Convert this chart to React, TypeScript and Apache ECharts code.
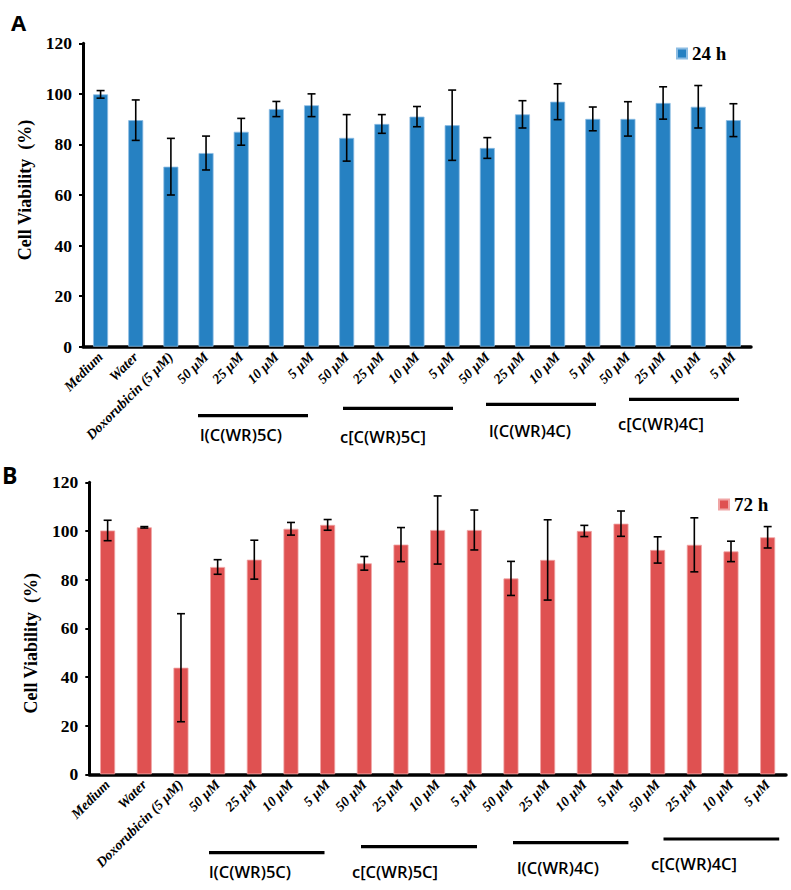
import React, { useEffect, useRef } from "react";
import * as echarts from "echarts";

const categories = [
  "Medium", "Water", "Doxorubicin (5 μM)",
  "50 μM", "25 μM", "10 μM", "5 μM",
  "50 μM", "25 μM", "10 μM", "5 μM",
  "50 μM", "25 μM", "10 μM", "5 μM",
  "50 μM", "25 μM", "10 μM", "5 μM",
];
const values24 = [99.8, 89.6, 71.2, 76.6, 85.0, 94.0, 95.5, 82.6, 88.1, 91.0, 87.6, 78.6, 91.9, 96.9, 90.1, 90.1, 96.4, 94.9, 89.6];
const err24 = [1.5, 8.0, 11.2, 6.7, 5.3, 3.0, 4.5, 9.2, 3.7, 4.0, 13.9, 4.1, 5.4, 7.1, 4.7, 6.8, 6.4, 8.4, 6.5];
const values72 = [100.2, 101.5, 43.8, 85.2, 88.2, 100.9, 102.5, 86.7, 94.4, 100.4, 100.4, 80.5, 88.1, 100.0, 103.0, 92.2, 94.3, 91.6, 97.4];
const err72 = [4.2, 0.3, 22.2, 3.0, 8.0, 2.6, 2.2, 2.8, 7.0, 14.0, 8.2, 7.0, 16.5, 2.3, 5.2, 5.4, 11.1, 4.2, 4.4];
const yTicks = [0, 20, 40, 60, 80, 100, 120];
const groupNames = ["l(C(WR)5C)", "c[C(WR)5C]", "l(C(WR)4C)", "c[C(WR)4C]"];
const seriesNames = ["24 h", "72 h"];

const BLUE = "#2681C2";
const RED = "#DF5151";
const SERIF = "'Liberation Serif', 'Times New Roman', serif";
const SANS = "'Open Sans', 'Liberation Sans', sans-serif";

// annotation geometry (pixels): [x1, x2, y] for bracket lines, [x, yCenter] for labels
const linesTop = [[198, 308, 415.7], [343, 453, 408.3], [486, 596, 404.3], [629, 739, 399.3]];
const textsTop = [[200, 434.3], [340, 436.5], [489, 430.7], [618, 423.3]];
const linesBot = [[209, 324.5, 852.7], [361, 477, 846.7], [513, 628.4, 842.7], [663.5, 779.2, 839]];
const textsBot = [[209, 871.7], [352, 871.7], [517, 867.7], [651, 863.3]];

function errData(vals: number[], errs: number[]) {
  return vals.map((v, i) => [i, v - errs[i], v + errs[i]]);
}

function renderErr(params: any, api: any) {
  const x = api.value(0);
  const lo = api.coord([x, api.value(1)]);
  const hi = api.coord([x, api.value(2)]);
  const cap = 4;
  const style = { stroke: "#000", lineWidth: 1.6 };
  return {
    type: "group",
    children: [
      { type: "line", shape: { x1: hi[0], y1: hi[1], x2: lo[0], y2: lo[1] }, style },
      { type: "line", shape: { x1: hi[0] - cap, y1: hi[1], x2: hi[0] + cap, y2: hi[1] }, style },
      { type: "line", shape: { x1: lo[0] - cap, y1: lo[1], x2: lo[0] + cap, y2: lo[1] }, style },
    ],
  };
}

function xAxis(gridIndex: number) {
  return {
    type: "category",
    gridIndex,
    data: categories,
    axisLine: { lineStyle: { color: "#000", width: 3.5 } },
    axisTick: { show: false },
    axisLabel: {
      interval: 0,
      rotate: 45,
      margin: 8,
      color: "#000",
      fontFamily: SERIF,
      fontStyle: "italic",
      fontWeight: "bold",
      fontSize: 14,
    },
  };
}

function yAxis(gridIndex: number, padding: number[]) {
  return {
    type: "value",
    gridIndex,
    min: yTicks[0],
    max: yTicks[yTicks.length - 1],
    interval: yTicks[1] - yTicks[0],
    name: "Cell Viability  (%)",
    nameLocation: "middle",
    nameGap: 49,
    nameTextStyle: {
      color: "#000",
      fontFamily: SERIF,
      fontWeight: "bold",
      fontSize: 18,
      padding,
    },
    splitLine: { show: false },
    axisLine: { show: true, lineStyle: { color: "#000", width: 3 } },
    axisTick: { show: true, length: 4, lineStyle: { color: "#000", width: 2 } },
    axisLabel: {
      color: "#000",
      fontFamily: SERIF,
      fontWeight: "bold",
      fontSize: 17.5,
      margin: 11,
    },
  };
}

function legend(name: string, left: number, top: number) {
  return {
    data: [name],
    left,
    top,
    icon: "rect",
    itemWidth: 10,
    itemHeight: 10,
    itemGap: 5,
    textStyle: { color: "#000", fontFamily: SERIF, fontWeight: "bold", fontSize: 19, padding: [0, 0, 0, 0] },
  };
}

function annotations(lines: number[][], texts: number[][]) {
  const els: any[] = [];
  lines.forEach((l) => {
    els.push({ type: "line", shape: { x1: l[0], y1: l[2], x2: l[1], y2: l[2] }, style: { stroke: "#000", lineWidth: 3.2 } });
  });
  texts.forEach((t, i) => {
    els.push({
      type: "text",
      x: t[0],
      y: t[1],
      style: {
        text: groupNames[i],
        fill: "#000",
        font: `600 16.5px ${SANS}`,
        textAlign: "left",
        textVerticalAlign: "middle",
      },
    });
  });
  return els;
}

export default function App() {
  const ref = useRef<HTMLDivElement>(null);
  useEffect(() => {
    document.body.style.margin = "0";
    const chart = echarts.init(ref.current!, undefined, { renderer: "svg" });
    chart.setOption({
      animation: false,
      backgroundColor: "#fff",
      grid: [
        { left: 83, right: 40, top: 43.3, height: 303.4 },
        { left: 89.3, right: 5, top: 482.3, height: 292 },
      ],
      xAxis: [xAxis(0), xAxis(1)],
      yAxis: [yAxis(0, [0, 0, 0, 10]), yAxis(1, [0, 30, 0, 0])],
      legend: [legend(seriesNames[0], 671, 39), legend(seriesNames[1], 713, 490)],
      series: [
        {
          name: seriesNames[0],
          type: "bar",
          xAxisIndex: 0,
          yAxisIndex: 0,
          data: values24,
          barWidth: 15,
          itemStyle: { color: BLUE, borderColor: "#8dbde3", borderWidth: 0.8 },
        },
        {
          name: "err24",
          type: "custom",
          xAxisIndex: 0,
          yAxisIndex: 0,
          data: errData(values24, err24),
          renderItem: renderErr,
          z: 5,
        },
        {
          name: seriesNames[1],
          type: "bar",
          xAxisIndex: 1,
          yAxisIndex: 1,
          data: values72,
          barWidth: 15,
          itemStyle: { color: RED, borderColor: "#f0a5a5", borderWidth: 0.8 },
        },
        {
          name: "err72",
          type: "custom",
          xAxisIndex: 1,
          yAxisIndex: 1,
          data: errData(values72, err72),
          renderItem: renderErr,
          z: 5,
        },
      ],
      graphic: [
        { type: "text", x: 11, y: 21.5, style: { text: "A", fill: "#000", font: `bold 22px ${SANS}`, textVerticalAlign: "middle" } },
        { type: "text", x: 2, y: 475, style: { text: "B", fill: "#000", font: `bold 23px ${SANS}`, textVerticalAlign: "middle" } },
        ...annotations(linesTop, textsTop),
        ...annotations(linesBot, textsBot),
      ],
    });
    return () => chart.dispose();
  }, []);
  return <div ref={ref} style={{ width: 791, height: 890 }} />;
}
